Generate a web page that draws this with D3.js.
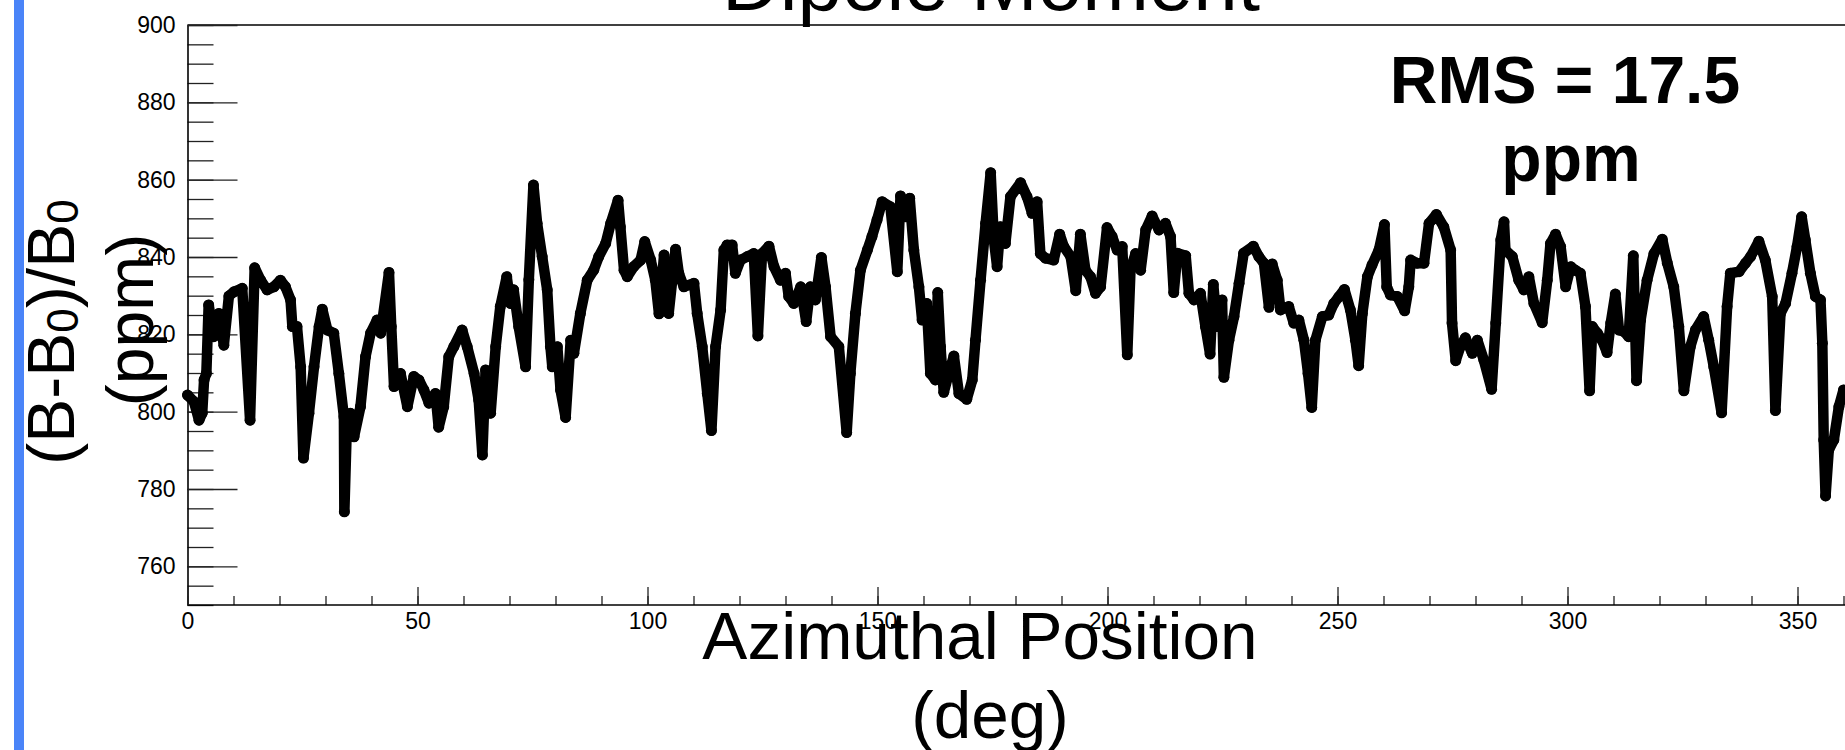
<!DOCTYPE html>
<html lang="en">
<head>
<meta charset="UTF-8">
<title>Dipole Moment</title>
<script src="https://d3js.org/d3.v7.min.js"></script>
<style>
body { margin: 0; background: #fff; }
svg { display: block; }
text { font-family: 'Liberation Sans', Arial, Helvetica, sans-serif; fill: #000; }
</style>
</head>
<body>
<svg width="1845" height="750"></svg>
<script>
// azimuth (deg), (B-B0)/B0 (ppm)
const dipolePoints = [
  [0,804.3],[1.4,802.6],[2.5,797.8],[3.2,799.6],[3.6,808.2],[4.1,809.9],[4.6,827.6],[5.7,819.4],[6.8,825.4],[7.9,817.2],
  [9.0,829.9],[10.1,831.0],[11.9,831.9],[13.6,797.8],[14.6,837.2],[15.9,834.0],[17.3,831.5],[18.8,832.3],[20.2,834.0],[21.3,832.3],
  [22.4,828.9],[22.8,822.0],[23.8,822.0],[24.6,811.6],[25.2,788.0],[26.4,799.6],[27.5,811.6],[28.6,822.0],[29.3,826.5],[30.4,821.1],
  [31.8,820.3],[32.9,809.9],[34.0,798.7],[34.1,774.1],[34.7,798.7],[35.4,799.6],[36.2,793.5],[37.6,801.3],[38.7,814.2],[39.8,820.3],
  [41.2,823.7],[42.0,820.3],[43.8,836.0],[44.3,822.0],[44.9,806.5],[46.3,809.9],[47.8,801.3],[49.2,809.1],[50.3,808.2],[51.4,805.6],
  [52.5,802.2],[53.9,804.7],[54.6,796.0],[55.7,801.3],[56.8,814.2],[57.9,816.8],[59.7,821.1],[60.8,816.8],[62.3,809.9],[63.3,803.0],
  [64.1,788.8],[64.8,810.8],[65.9,799.6],[67.0,816.8],[68.0,827.2],[69.4,834.9],[70.2,828.0],[70.9,831.5],[72.0,822.0],[73.5,811.6],
  [74.2,834.1],[75.2,858.6],[76.0,848.7],[77.1,840.1],[78.2,831.5],[78.9,816.8],[79.3,811.6],[80.4,816.8],[81.1,805.6],[82.2,798.5],
  [83.3,818.5],[84.0,815.1],[85.4,825.4],[86.9,834.0],[88.3,836.6],[89.4,840.1],[90.9,843.5],[92.0,848.7],[93.6,854.7],[94.1,847.8],
  [94.9,836.6],[95.6,834.9],[97.0,837.5],[98.5,839.2],[99.4,844.0],[100.7,839.2],[101.7,834.0],[102.5,825.3],[103.6,840.5],[104.6,825.4],
  [106.1,842.0],[106.8,835.8],[107.9,832.3],[110.1,833.2],[110.8,825.4],[111.9,816.8],[113.0,804.7],[113.9,795.1],[114.8,816.8],[115.9,826.3],
  [116.6,841.8],[117.3,843.1],[118.4,843.1],[119.1,835.8],[120.2,839.2],[121.7,840.1],[123.1,840.9],[124.0,819.6],[124.9,840.9],[126.4,842.8],
  [127.5,837.5],[128.9,834.0],[130.0,835.8],[130.7,829.8],[131.8,828.0],[133.3,832.3],[134.5,823.3],[135.4,832.3],[136.5,828.9],[137.8,839.9],
  [138.7,832.3],[139.8,819.4],[141.6,816.8],[143.3,794.6],[144.1,809.9],[145.2,825.4],[146.3,836.6],[147.8,841.8],[148.8,845.3],[149.9,849.6],
  [151.0,854.3],[152.8,853.0],[154.3,836.2],[155.0,855.8],[156.1,850.4],[157.0,855.2],[157.9,841.8],[159.0,832.3],[159.7,823.7],[160.7,828.0],
  [161.5,809.9],[162.6,808.2],[163.1,830.8],[163.7,816.8],[164.4,805.0],[165.5,809.9],[166.6,814.4],[167.7,804.7],[169.4,803.2],[170.6,808.2],
  [171.3,818.5],[172.4,834.0],[173.5,848.7],[174.6,861.8],[175.3,844.4],[176.0,837.5],[176.7,847.8],[177.8,843.5],[178.9,855.6],[181.1,859.2],
  [182.5,855.6],[183.6,851.3],[184.7,854.3],[185.4,840.9],[186.5,839.7],[188.3,839.2],[189.6,845.9],[190.5,842.7],[192.0,840.1],[193.1,831.3],
  [194.1,845.9],[195.2,836.6],[196.3,834.9],[197.4,830.6],[198.5,832.3],[199.9,847.6],[201.0,845.3],[202.1,841.8],[203.2,842.7],[204.3,814.7],
  [205.0,836.6],[206.1,840.9],[207.2,836.6],[208.3,847.0],[209.7,850.6],[211.2,847.0],[212.6,848.7],[213.7,845.3],[214.4,830.8],[215.2,841.0],
  [217.0,840.3],[217.7,830.6],[218.8,828.9],[220.2,830.6],[221.3,822.0],[222.3,814.9],[223.0,832.9],[223.8,822.0],[224.9,828.9],[225.3,808.9],
  [226.4,818.5],[227.5,824.6],[228.6,833.2],[229.6,841.0],[231.7,842.8],[232.9,840.1],[234.0,838.4],[235.1,827.0],[235.8,838.2],[236.9,834.0],
  [237.6,826.3],[239.4,827.2],[240.5,822.9],[241.6,823.7],[242.7,818.5],[243.6,809.9],[244.4,801.1],[245.2,818.5],[246.7,824.6],[248.1,825.0],
  [249.2,828.0],[250.3,829.7],[251.5,831.6],[252.8,826.3],[253.9,818.5],[254.6,811.9],[255.4,825.4],[256.5,834.9],[257.5,837.9],[259.0,841.8],
  [260.2,848.4],[260.7,832.3],[261.5,830.2],[263.0,829.8],[264.6,826.1],[265.5,832.3],[265.9,839.2],[267.3,838.4],[268.8,838.4],[269.9,848.7],
  [271.5,851.0],[273.1,847.8],[274.6,841.8],[274.9,822.9],[275.7,813.2],[276.7,816.8],[277.8,819.1],[279.3,815.1],[280.4,818.5],[281.8,813.4],
  [283.5,805.8],[284.4,822.9],[285.5,844.4],[286.2,849.1],[286.5,841.8],[288.0,840.1],[289.4,834.0],[290.5,831.5],[291.6,834.9],[292.7,828.0],
  [294.5,823.0],[295.6,834.0],[296.3,843.5],[297.4,845.9],[298.5,842.7],[299.6,832.3],[300.7,837.5],[301.7,836.6],[302.8,835.8],[303.9,827.2],
  [304.8,805.4],[305.4,822.0],[306.5,820.3],[307.5,818.5],[308.6,815.3],[309.4,822.9],[310.4,830.4],[311.2,821.1],[312.3,820.7],[313.3,819.4],
  [314.3,840.3],[315.0,808.0],[315.9,823.7],[317.3,834.0],[318.8,840.9],[320.6,844.6],[321.7,838.4],[323.1,832.3],[324.2,822.0],[325.3,805.4],
  [326.7,816.8],[327.8,821.1],[329.6,824.6],[330.7,818.5],[331.8,811.6],[333.5,799.7],[334.7,827.2],[335.4,835.8],[337.3,836.2],[338.7,838.4],
  [339.8,840.1],[341.6,844.1],[343.0,839.2],[344.5,829.8],[345.2,800.3],[346.3,825.4],[347.4,828.0],[348.8,835.8],[349.9,842.7],[350.9,850.4],
  [351.7,844.4],[352.8,835.8],[353.9,829.8],[355.0,828.9],[355.4,817.7],[355.7,792.7],[356.1,778.2],[356.8,790.1],[357.9,792.7],[359.0,801.3],
  [360.0,805.6]
];

const xMajorTicks = [0, 50, 100, 150, 200, 250, 300, 350];
const xMinorTicks = d3.range(0, 361, 10);
const yMajorTicks = [760, 780, 800, 820, 840, 860, 880, 900];
const yMinorTicks = d3.range(750, 901, 5);

const svg = d3.select('svg');

// left edge stripe
svg.append('rect').attr('x', 14).attr('y', 0).attr('width', 10).attr('height', 750).attr('fill', '#4a84f8');

const x = d3.scaleLinear().domain([0, 360]).range([187.5, 1843.5]);
const y = d3.scaleLinear().domain([750, 900]).range([605, 25]);

// frame
svg.append('line').attr('x1', 187.5).attr('x2', 1845).attr('y1', 25).attr('y2', 25)
  .attr('stroke', '#000').attr('stroke-width', 1.6);

// y axis, ticks pointing into the plot
svg.append('g').attr('transform', 'translate(187.5,0)')
  .call(d3.axisLeft(y).tickValues(yMinorTicks).tickSize(-26).tickFormat(''))
  .call(g => g.select('.domain').remove());
const yAxis = svg.append('g').attr('transform', 'translate(187.5,0)')
  .call(d3.axisLeft(y).tickValues(yMajorTicks).tickSizeInner(-50).tickSizeOuter(0).tickPadding(12));
yAxis.selectAll('text').attr('font-size', 23);

// x axis
svg.append('g').attr('transform', 'translate(0,605)')
  .call(d3.axisBottom(x).tickValues(xMinorTicks).tickSize(-9).tickFormat(''))
  .call(g => g.select('.domain').remove());
const xAxis = svg.append('g').attr('transform', 'translate(0,605)')
  .call(d3.axisBottom(x).tickValues(xMajorTicks).tickSizeInner(-18).tickSizeOuter(0).tickPadding(8));
xAxis.selectAll('text').attr('font-size', 23);
xAxis.select('.domain').attr('d', 'M187.5,0H1845');

svg.selectAll('.tick line').attr('stroke', '#222').attr('stroke-width', 1.3);
svg.selectAll('.domain').attr('stroke', '#000').attr('stroke-width', 1.6);

// data trace: dense markers joined into a thick band
const line = d3.line().x(d => x(d[0])).y(d => y(d[1]));
svg.append('path').datum(dipolePoints)
  .attr('d', line)
  .attr('fill', 'none').attr('stroke', '#000')
  .attr('stroke-width', 10.5).attr('stroke-linejoin', 'round').attr('stroke-linecap', 'round');
svg.append('g').selectAll('circle').data(dipolePoints).enter().append('circle')
  .attr('cx', d => x(d[0])).attr('cy', d => y(d[1])).attr('r', 5.5).attr('fill', '#000');

// title (cut off at top)
svg.append('text').attr('x', 991).attr('y', 10).attr('text-anchor', 'middle')
  .attr('font-size', 80).text('Dipole Moment');

// RMS note
const rms = svg.append('text').attr('text-anchor', 'middle').attr('font-weight', 'bold').attr('font-size', 66);
rms.append('tspan').attr('x', 1565).attr('y', 103).text('RMS = 17.5');
rms.append('tspan').attr('x', 1571).attr('y', 181).text('ppm');

// x title
const xt = svg.append('text').attr('text-anchor', 'middle').attr('font-size', 67.5);
xt.append('tspan').attr('x', 980).attr('y', 659).text('Azimuthal Position');
xt.append('tspan').attr('x', 990).attr('y', 738).text('(deg)');

// y title, rotated
const yt = svg.append('text').attr('text-anchor', 'middle').attr('font-size', 66)
  .attr('transform', 'translate(0,332) rotate(-90)');
const l1 = yt.append('tspan').attr('x', 0).attr('y', 74);
l1.append('tspan').text('(B-B');
l1.append('tspan').attr('font-size', 44).attr('dy', 4).text('0');
l1.append('tspan').attr('dy', -4).text(')/B');
l1.append('tspan').attr('font-size', 44).attr('dy', 4).text('0');
yt.append('tspan').attr('x', 12).attr('y', 153).text('(ppm)');
</script>
</body>
</html>
